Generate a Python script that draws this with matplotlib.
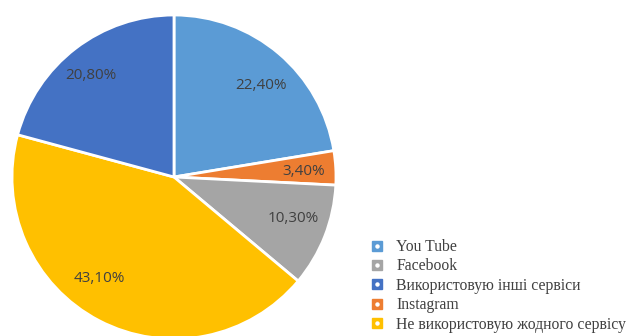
import matplotlib
matplotlib.use('Agg')
import numpy as np
import matplotlib.pyplot as plt
from matplotlib.lines import Line2D
from matplotlib.legend_handler import HandlerTuple

# Data (clockwise from top)
categories = ['You Tube', 'Instagram', 'Facebook',
              'Не використовую жодного сервісу', 'Використовую інші сервіси']
values = [22.4, 3.4, 10.3, 43.1, 20.8]
colors = ['#5B9BD5', '#ED7D31', '#A5A5A5', '#FFC000', '#4472C4']
label_texts = ['22,40%', '3,40%', '10,30%', '43,10%', '20,80%']

# legend order as in the reference
legend_order = ['You Tube', 'Facebook', 'Використовую інші сервіси',
                'Instagram', 'Не використовую жодного сервісу']

# label placement (radius fraction, angle shift in degrees) - "best fit" look
label_radius = [0.78, 0.80, 0.78, 0.775, 0.81]
label_shift = [-3.4, -0.6, 2.4, -8.9, 1.9]

fig = plt.figure(figsize=(6.28, 3.36), dpi=100)
ax = fig.add_axes([12 / 628, -3 / 336, 324 / 628, 324 / 336])

wedges, _ = ax.pie(
    values,
    colors=colors,
    startangle=90,
    counterclock=False,
    radius=1,
    wedgeprops=dict(edgecolor='white', linewidth=2),
)

for w, txt, r, sh in zip(wedges, label_texts, label_radius, label_shift):
    ang = np.deg2rad((w.theta1 + w.theta2) / 2 + sh)
    ax.text(r * np.cos(ang), r * np.sin(ang), txt, color='#404040',
            fontsize=11, family='Open Sans', ha='center', va='center')

ax.set_xlim(-1, 1)
ax.set_ylim(-1, 1)
ax.set_aspect('equal')
ax.axis('off')

# legend handles: coloured square with a small white dot
handles = []
for name in legend_order:
    c = colors[categories.index(name)]
    sq = Line2D([], [], marker='s', color=c, markersize=6.5, linestyle='none')
    dot = Line2D([], [], marker='o', color='white', markersize=2.2, linestyle='none')
    handles.append((sq, dot))

fig.legend(handles, legend_order,
           handler_map={tuple: HandlerTuple(ndivide=1, pad=0)},
           loc='upper left', bbox_to_anchor=(372 / 628, 1 - 239 / 336),
           frameon=False, prop=dict(family='Liberation Serif', size=11.3),
           labelcolor='#404040', handlelength=0.6, handletextpad=0.95,
           labelspacing=0.22, borderpad=0, borderaxespad=0)

fig.savefig('out.png', dpi=100)
